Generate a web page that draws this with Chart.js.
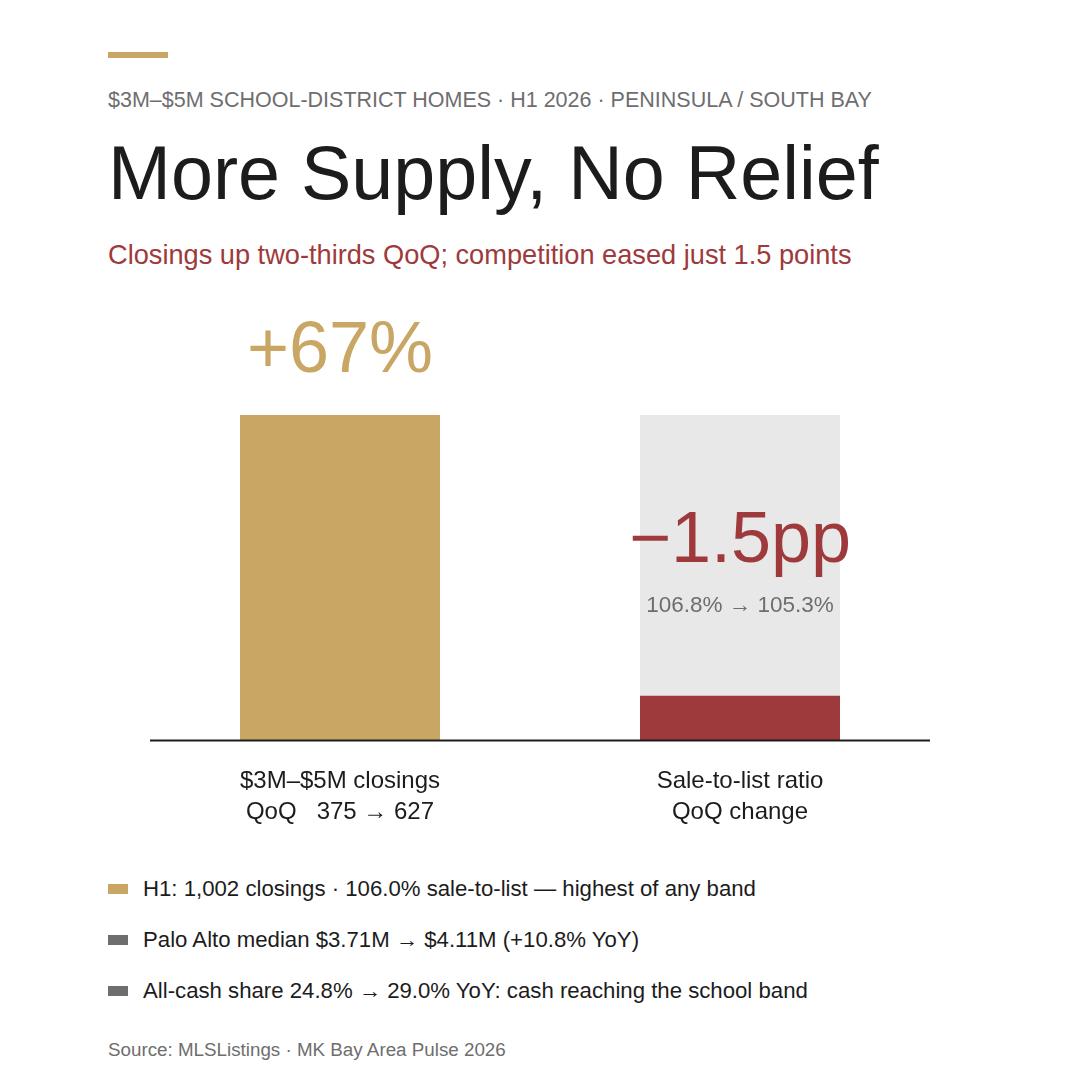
<!DOCTYPE html>
<html>
<head>
<meta charset="utf-8">
<script src="https://cdn.jsdelivr.net/npm/chart.js@4.4.1/dist/chart.umd.min.js"></script>
<style>
  html, body { margin: 0; padding: 0; background: #fff; }
  body { width: 1080px; height: 1080px; position: relative; overflow: hidden;
         font-family: "Liberation Sans", Arial, sans-serif; }
  .abs { position: absolute; white-space: nowrap; }
  #rule { left: 108px; top: 52px; width: 60px; height: 6px; background: #C9A663; }
  #kicker { left: 108px; top: 90px; font-size: 21.5px; line-height: 21.5px; color: #6e6e6e; }
  #title { left: 108px; top: 136px; font-size: 75.5px; line-height: 75.5px; color: #1c1c1c; }
  #subtitle { left: 108px; top: 241px; font-size: 27.2px; line-height: 27.2px; color: #9E3A3C; }
  #chartBox { left: 140px; top: 300px; width: 800px; height: 560px; }
  .note { left: 108px; font-size: 22.2px; line-height: 22px; color: #1c1c1c; display: flex; align-items: center; }
  .note span.sw { display: inline-block; width: 20px; height: 10px; margin-right: 15px; }
  #source { left: 108px; top: 1040px; font-size: 18.8px; line-height: 19px; color: #6e6e6e; }
</style>
</head>
<body>
<div class="abs" id="rule"></div>
<div class="abs" id="kicker">$3M–$5M SCHOOL-DISTRICT HOMES · H1 2026 · PENINSULA / SOUTH BAY</div>
<div class="abs" id="title">More Supply, No Relief</div>
<div class="abs" id="subtitle">Closings up two-thirds QoQ; competition eased just 1.5 points</div>
<div class="abs" id="chartBox"><canvas id="chart"></canvas></div>
<div id="notes"></div>
<div class="abs" id="source">Source: MLSListings · MK Bay Area Pulse 2026</div>

<script>
// categories (two-line tick labels)
const categories = [
    ['$3M–$5M closings', 'QoQ   375 → 627'],
    ['Sale-to-list ratio', 'QoQ change']
];
// bar heights on a 0-100 index scale
const barValues = [100, 13.8];
const trackValues = [null, 100];
const bigLabels = ['+67%', '−1.5pp'];
const smallLabels = [null, '106.8% → 105.3%'];

const notes = [
    'H1: 1,002 closings · 106.0% sale-to-list — highest of any band',
    'Palo Alto median $3.71M → $4.11M (+10.8% YoY)',
    'All-cash share 24.8% → 29.0% YoY: cash reaching the school band'
];
const noteColors = ['#C9A663', '#6e6e6e', '#6e6e6e'];

const GOLD = '#C9A663';
const RED = '#9E3A3C';
const TRACK = '#E8E8E8';

// legend-style notes below the chart
const notesEl = document.getElementById('notes');
notes.forEach((txt, i) => {
    const row = document.createElement('div');
    row.className = 'abs note';
    row.style.top = (878 + i * 51) + 'px';
    row.innerHTML = `<span class="sw" style="background:${noteColors[i]}"></span>${txt}`;
    notesEl.appendChild(row);
});

// draws the baseline and the big value labels
const labelPlugin = {
    id: 'labelPlugin',
    afterDatasetsDraw(chart) {
        const { ctx, chartArea, scales } = chart;
        const meta = chart.getDatasetMeta(0);
        ctx.save();

        // baseline
        ctx.strokeStyle = '#1c1c1c';
        ctx.lineWidth = 2;
        ctx.beginPath();
        ctx.moveTo(chartArea.left + 10, chartArea.bottom);
        ctx.lineTo(chartArea.right - 10, chartArea.bottom);
        ctx.stroke();

        ctx.textAlign = 'center';
        ctx.textBaseline = 'alphabetic';
        meta.data.forEach((bar, i) => {
            const x = bar.x;
            if (i === 0) {
                ctx.fillStyle = GOLD;
                ctx.font = '72px "Liberation Sans", Arial, sans-serif';
                ctx.fillText(bigLabels[i], x, bar.y - 43);
            } else {
                ctx.fillStyle = RED;
                ctx.font = '72px "Liberation Sans", Arial, sans-serif';
                ctx.fillText(bigLabels[i], x, scales.y.getPixelForValue(54.8));
                ctx.fillStyle = '#6e6e6e';
                ctx.font = '22.5px "Liberation Sans", Arial, sans-serif';
                ctx.fillText(smallLabels[i], x, scales.y.getPixelForValue(39.4));
            }
        });
        ctx.restore();
    }
};

new Chart(document.getElementById('chart'), {
    type: 'bar',
    data: {
        labels: categories,
        datasets: [{
            label: 'value',
            data: barValues,
            backgroundColor: [GOLD, RED],
            borderWidth: 0,
            grouped: false,
            order: 0
        }, {
            label: 'track',
            data: trackValues,
            backgroundColor: TRACK,
            borderWidth: 0,
            grouped: false,
            order: 1
        }]
    },
    options: {
        responsive: true,
        maintainAspectRatio: false,
        animation: false,
        barPercentage: 0.5,
        categoryPercentage: 1,
        layout: { padding: { top: 115, bottom: 7, left: 0, right: 0 } },
        plugins: {
            legend: { display: false },
            tooltip: { enabled: false }
        },
        scales: {
            x: {
                grid: { display: false, drawTicks: false },
                border: { display: false },
                ticks: {
                    color: '#1c1c1c',
                    padding: 25,
                    font: { size: 24, family: '"Liberation Sans", Arial, sans-serif', lineHeight: 1.3 }
                }
            },
            y: {
                display: false,
                min: 0,
                max: 100
            }
        }
    },
    plugins: [labelPlugin]
});
</script>
</body>
</html>
